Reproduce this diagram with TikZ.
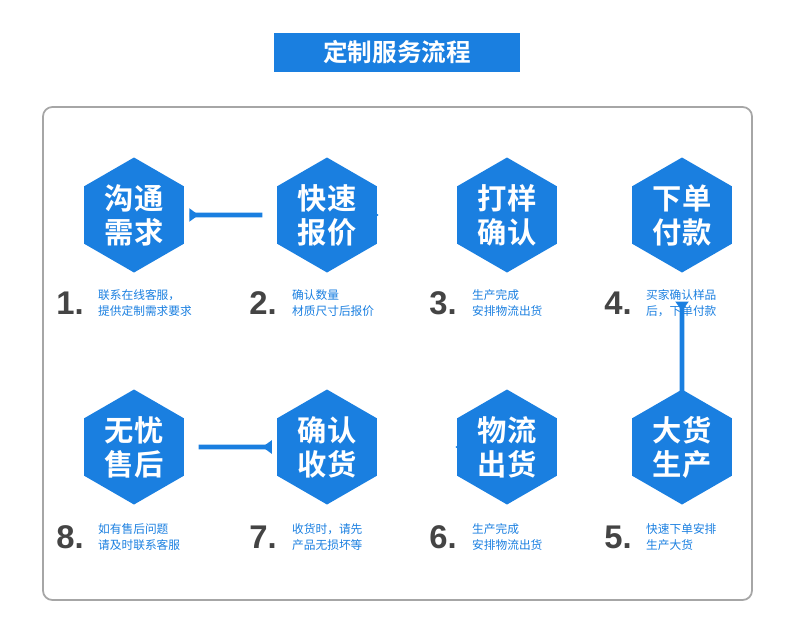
\documentclass[tikz,border=0pt]{standalone}
\usepackage{fontspec}
\setmainfont{Liberation Sans}
\newfontfamily\cjk{Noto Sans CJK SC}
\newfontfamily\cjkb{Noto Sans CJK SC Bold}
\usetikzlibrary{shapes.geometric,arrows.meta}
\definecolor{stepblue}{HTML}{1A7FE0}
\definecolor{numgray}{HTML}{444444}
\begin{document}
\begin{tikzpicture}[x=0.03cm,y=-0.03cm,
    hexbox/.style={regular polygon,regular polygon sides=6,shape border rotate=30,
      fill=stepblue,minimum size=3.45cm,inner sep=0pt,text=white,align=center,
      font=\cjkb\fontsize{25}{29}\selectfont},
    numtext/.style={text=numgray,font=\bfseries\fontsize{28}{30}\selectfont,anchor=center},
    desc/.style={text=stepblue,align=left,anchor=west,font=\cjk\fontsize{10}{14}\selectfont},
    flow/.style={stepblue,line width=4pt,-{Triangle[length=8pt,width=11pt]},
      shorten <=2.35cm,shorten >=2.35cm}]
    \useasboundingbox (0,0) rectangle (790,630);
    
    \node[fill=stepblue,minimum width=7.35cm,minimum height=1.17cm,text=white,
      font=\cjkb\fontsize{21}{24}\selectfont] (title) at (397,52) {定制服务流程};
    \draw[gray!70,line width=1.5pt,rounded corners=8pt] (43,107) rectangle (752,600);
    
    \node[hexbox] (s1) at (134,215) {沟通\\需求};
    \node[hexbox] (s2) at (327,215) {快速\\报价};
    \node[hexbox] (s3) at (507,215) {打样\\确认};
    \node[hexbox] (s4) at (682,215) {下单\\付款};
    \node[hexbox] (s5) at (682,447) {大货\\生产};
    \node[hexbox] (s6) at (507,447) {物流\\出货};
    \node[hexbox] (s7) at (327,447) {确认\\收货};
    \node[hexbox] (s8) at (134,447) {无忧\\售后};
    
    \node[numtext] (n1) at (70,303) {1.};
    \node[numtext] (n2) at (263,303) {2.};
    \node[numtext] (n3) at (443,303) {3.};
    \node[numtext] (n4) at (618,303) {4.};
    \node[numtext] (n5) at (618,537) {5.};
    \node[numtext] (n6) at (443,537) {6.};
    \node[numtext] (n7) at (263,537) {7.};
    \node[numtext] (n8) at (70,537) {8.};
    
    \node[desc] (d1) at (94,303) {联系在线客服，\\提供定制需求要求};
    \node[desc] (d2) at (288,303) {确认数量\\材质尺寸后报价};
    \node[desc] (d3) at (468,303) {生产完成\\安排物流出货};
    \node[desc] (d4) at (642,303) {买家确认样品\\后，下单付款};
    \node[desc] (d5) at (642,537) {快速下单安排\\生产大货};
    \node[desc] (d6) at (468,537) {生产完成\\安排物流出货};
    \node[desc] (d7) at (288,537) {收货时，请先\\产品无损坏等};
    \node[desc] (d8) at (94,537) {如有售后问题\\请及时联系客服};
    
    \draw[flow] (s1) -- (s2);
    \draw[flow] (s2) -- (s3);
    \draw[flow] (s3) -- (s4);
    \draw[flow,shorten <=3.75cm] (s4) -- (s5);
    \draw[flow] (s5) -- (s6);
    \draw[flow] (s6) -- (s7);
    \draw[flow] (s7) -- (s8);
\end{tikzpicture}
\end{document}
